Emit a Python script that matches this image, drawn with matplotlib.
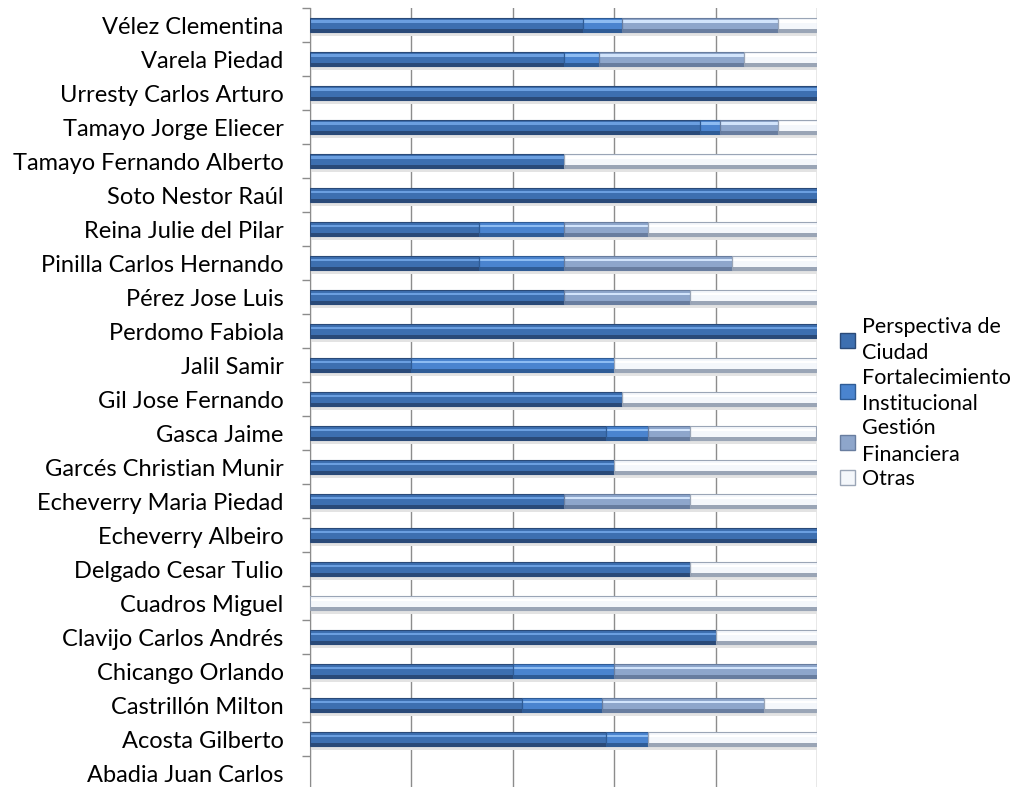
import matplotlib
matplotlib.use("Agg")
import matplotlib.pyplot as plt
import numpy as np
from matplotlib.patches import Patch

categories = ["Vélez Clementina", "Varela Piedad", "Urresty Carlos Arturo", "Tamayo Jorge Eliecer",
              "Tamayo Fernando Alberto", "Soto Nestor Raúl", "Reina Julie del Pilar",
              "Pinilla Carlos Hernando", "Pérez Jose Luis", "Perdomo Fabiola", "Jalil Samir",
              "Gil Jose Fernando", "Gasca Jaime", "Garcés Christian Munir", "Echeverry Maria Piedad",
              "Echeverry Albeiro", "Delgado Cesar Tulio", "Cuadros Miguel", "Clavijo Carlos Andrés",
              "Chicango Orlando", "Castrillón Milton", "Acosta Gilberto", "Abadia Juan Carlos"]
series_names = ["Perspectiva de\nCiudad", "Fortalecimiento\nInstitucional", "Gestión\nFinanciera", "Otras"]
perspectiva = [53.8, 50.0, 100, 76.9, 50.0, 100, 33.3, 33.3, 50.0, 100, 20.0, 61.5, 58.3, 60.0, 50.0, 100, 75.0, 0, 80.0, 40.0, 41.8, 58.3, 0]
fortalecimiento = [7.7, 7.1, 0, 3.9, 0, 0, 16.7, 16.7, 0, 0, 40.0, 0, 8.3, 0, 0, 0, 0, 0, 0, 20.0, 15.8, 8.3, 0]
gestion = [30.8, 28.6, 0, 11.5, 0, 0, 16.7, 33.3, 25.0, 0, 0, 0, 8.3, 0, 25.0, 0, 0, 0, 0, 40.0, 31.9, 0, 0]
otras = [7.7, 14.3, 0, 7.7, 50.0, 0, 33.3, 16.7, 25.0, 0, 40.0, 38.5, 25.0, 40.0, 25.0, 0, 25.0, 100, 20.0, 0, 10.5, 33.4, 0]

# (mid, top highlight, bottom shade)
palettes = [("#3d6fb0", "#6b9fe0", "#2a4a78"),
            ("#4a84cf", "#8dbcf2", "#2f5c96"),
            ("#8ea6cb", "#d2e4fb", "#687d9f"),
            ("#f4f7fb", "#ffffff", "#9aa5b6")]

FONT = "Lato"
FS = 17
LFS = 15.5

fig = plt.figure(figsize=(10.15, 7.87), dpi=100)
ax = fig.add_axes([310/1015, -0.004, 507/1015, (787-8)/787 + 0.004])

n = len(categories)
y = np.arange(n)[::-1].astype(float)
h = 0.43
data = [perspectiva, fortalecimiento, gestion, otras]
left = np.zeros(n)
for vals, (mid, top, bot) in zip(data, palettes):
    vals = np.array(vals, dtype=float)
    m = vals > 0
    yy, vv, ll = y[m], vals[m], left[m]
    ax.barh(yy - h*0.62, vv, height=h*0.2, left=ll, color="#e3e3e3", edgecolor="none", zorder=2)
    ax.barh(yy, vv, height=h, left=ll, color=mid, edgecolor="none", zorder=3)
    ax.barh(yy + h*0.22, vv, height=h*0.18, left=ll, color=top, edgecolor="none", zorder=4)
    ax.barh(yy - h*0.37, vv, height=h*0.26, left=ll, color=bot, edgecolor="none", zorder=4)
    ax.barh(yy, vv, height=h, left=ll, color="none", edgecolor=bot, linewidth=0.8, zorder=5)
    left += vals

ax.set_xlim(0, 100)
ax.set_ylim(-0.5, n - 0.5)
ax.set_xticks(np.arange(0, 101, 20))
ax.xaxis.grid(True, color="#8c8c8c", linewidth=1.0, zorder=0)
ax.tick_params(axis="x", length=0, labelbottom=False)
ax.set_yticks(y)
ax.set_yticklabels(categories, fontsize=FS, family=FONT, color="#000000")
ax.tick_params(axis="y", which="major", length=0, pad=19)
ax.set_yticks(np.arange(-0.5, n, 1.0), minor=True)
ax.tick_params(axis="y", which="minor", length=6, color="#8c8c8c", width=1)
for s in ["top", "right", "bottom"]:
    ax.spines[s].set_visible(False)
ax.spines["left"].set_color("#8c8c8c")

handles = [Patch(facecolor=p[0], edgecolor=p[2], linewidth=1) for p in palettes]
leg = fig.legend(handles, series_names, loc="upper left", bbox_to_anchor=(840/1015, 1 - 317/787),
                 frameon=False, prop={"family": FONT, "size": LFS}, handlelength=0.7, handleheight=0.7,
                 handletextpad=0.3, labelspacing=0.2, borderaxespad=0, borderpad=0)
for t in leg.get_texts():
    t.set_linespacing(1.4)

fig.savefig("out.png", dpi=100)
